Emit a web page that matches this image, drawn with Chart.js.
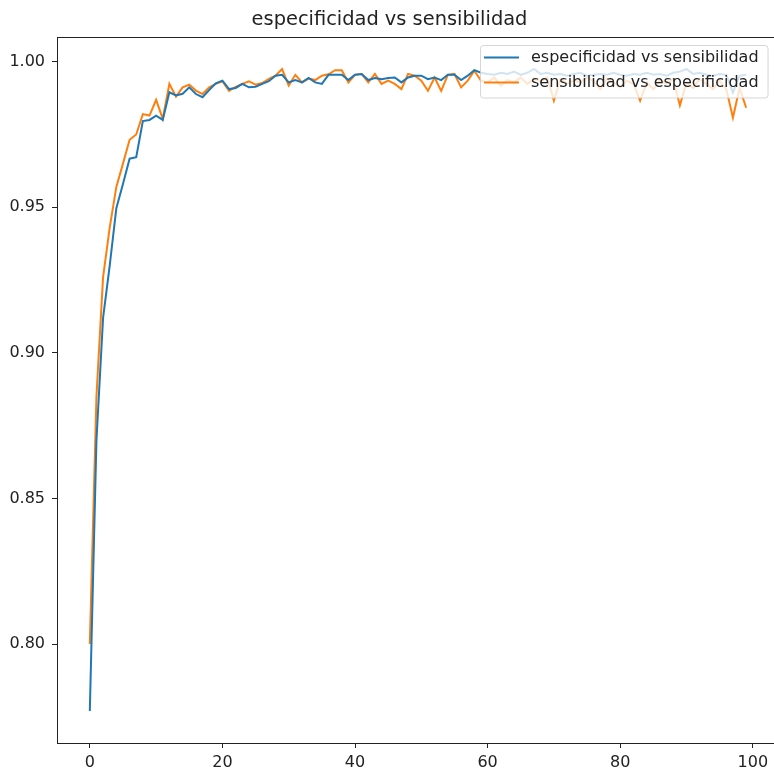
<!DOCTYPE html>
<html>
<head>
<meta charset="utf-8">
<script src="https://cdn.jsdelivr.net/npm/chart.js@4"></script>
<style>
  body { margin: 0; overflow: hidden; background: #fff; }
  #wrap { width: 774px; height: 771px; overflow: hidden; }
</style>
</head>
<body>
<div id="wrap"><canvas id="chart" width="834" height="771"></canvas></div>
<script>
const titleText = "especificidad vs sensibilidad";
const seriesLabels = ["especificidad vs sensibilidad", "sensibilidad vs especificidad"];
const xTicks = [0, 20, 40, 60, 80, 100];
const yTicks = [0.80, 0.85, 0.90, 0.95, 1.00];

const especificidad = [
  0.777, 0.870, 0.912, 0.930, 0.9497, 0.958, 0.9667, 0.9672, 0.9796, 0.980,
  0.9815, 0.980, 0.9895, 0.9884, 0.989, 0.9912, 0.9889, 0.9878, 0.9903, 0.9926,
  0.9935, 0.9906, 0.991, 0.9924, 0.9912, 0.9914, 0.9924, 0.9933, 0.9952, 0.9955,
  0.9929, 0.9937, 0.9929, 0.9944, 0.9929, 0.9924, 0.9955, 0.9955, 0.9955, 0.9937,
  0.9955, 0.9958, 0.9937, 0.9944, 0.994, 0.9944, 0.9946, 0.9929, 0.9946, 0.9952,
  0.9952, 0.994, 0.9946, 0.9937, 0.9955, 0.9955, 0.9937, 0.9952, 0.9971, 0.9962,
  0.9958, 0.9955, 0.9962, 0.9958, 0.9966, 0.9955, 0.9962, 0.9975, 0.9958, 0.9962,
  0.9955, 0.9958, 0.9952, 0.9958, 0.9962, 0.9952, 0.9955, 0.9958, 0.9955, 0.9962,
  0.9955, 0.9952, 0.9958, 0.9955, 0.9962, 0.9955, 0.9958, 0.9952, 0.9962, 0.9966,
  0.9975, 0.9958, 0.9962, 0.9955, 0.9952, 0.9958, 0.9955, 0.9894, 0.9952, 0.9955
];

const sensibilidad = [
  0.800, 0.885, 0.926, 0.943, 0.957, 0.965, 0.9732, 0.975, 0.982, 0.9815,
  0.9869, 0.9804, 0.9924, 0.988, 0.9912, 0.9921, 0.9901, 0.9889, 0.9912, 0.9924,
  0.9933, 0.990, 0.9914, 0.9924, 0.9933, 0.9921, 0.9927, 0.9941, 0.9952, 0.9975,
  0.9918, 0.9955, 0.9929, 0.9942, 0.9937, 0.9952, 0.9957, 0.9971, 0.9971, 0.9929,
  0.9955, 0.9958, 0.9929, 0.9958, 0.9924, 0.9935, 0.9924, 0.9906, 0.9958, 0.9952,
  0.9935, 0.990, 0.9946, 0.990, 0.9955, 0.9958, 0.9912, 0.9935, 0.9969, 0.9935,
  0.9929, 0.9946, 0.9917, 0.9937, 0.9929, 0.9946, 0.9924, 0.9941, 0.9933, 0.9946,
  0.9866, 0.9941, 0.9924, 0.9935, 0.9929, 0.9946, 0.9933, 0.9906, 0.9941, 0.9929,
  0.9912, 0.9935, 0.9924, 0.9866, 0.9929, 0.9906, 0.9937, 0.9924, 0.9941, 0.985,
  0.9929, 0.991, 0.9941, 0.9924, 0.9906, 0.9935, 0.9906, 0.9808, 0.991, 0.9842
];

const epochs = especificidad.map((_, i) => i);

const FONT = "'DejaVu Sans', sans-serif";
const TEXT = "#222";

// matplotlib style frame + legend drawn over the lines
const framePlugin = {
  id: "frame",
  afterDatasetsDraw(chart) {
    const { ctx, chartArea: a } = chart;
    ctx.save();
    ctx.strokeStyle = "#222";
    ctx.lineWidth = 1;
    ctx.strokeRect(Math.round(a.left) + 0.5, Math.round(a.top) + 0.5,
      Math.round(a.right - a.left), Math.round(a.bottom - a.top));

    // legend
    ctx.font = "16px " + FONT;
    const ds = chart.data.datasets;
    const textW = Math.max(...ds.map(d => ctx.measureText(d.label).width));
    const bx = 480, by = 45, bh = 52.5;
    const textX = 531;
    const bw = textX - bx + textW + 9;
    ctx.beginPath();
    ctx.roundRect(bx + 0.5, by + 0.5, bw, bh, 3);
    ctx.fillStyle = "rgba(255,255,255,0.8)";
    ctx.fill();
    ctx.strokeStyle = "rgba(204,204,204,0.8)";
    ctx.stroke();
    ds.forEach((d, i) => {
      const y = 57.5 + i * 25;
      ctx.strokeStyle = d.borderColor;
      ctx.lineWidth = 2;
      ctx.beginPath();
      ctx.moveTo(484, y);
      ctx.lineTo(519, y);
      ctx.stroke();
      ctx.fillStyle = TEXT;
      ctx.textBaseline = "middle";
      ctx.fillText(d.label, textX, y);
    });
    ctx.restore();
  }
};

new Chart(document.getElementById("chart"), {
  type: "line",
  data: {
    datasets: [
      {
        label: seriesLabels[0],
        data: epochs.map((e, i) => ({ x: e, y: especificidad[i] })),
        borderColor: "#1f77b4",
        borderWidth: 2,
        pointRadius: 0,
        tension: 0
      },
      {
        label: seriesLabels[1],
        data: epochs.map((e, i) => ({ x: e, y: sensibilidad[i] })),
        borderColor: "#ff7f0e",
        borderWidth: 2,
        pointRadius: 0,
        tension: 0
      }
    ]
  },
  options: {
    responsive: false,
    animation: false,
    layout: { padding: { left: 0, top: 0, right: 55, bottom: 0 } },
    plugins: {
      legend: { display: false },
      tooltip: { enabled: false },
      title: {
        display: true,
        text: titleText,
        color: TEXT,
        font: { family: FONT, size: 19.4, weight: "normal" },
        padding: { top: 8.5, bottom: 5.2 }
      }
    },
    scales: {
      x: {
        type: "linear",
        min: -4.95,
        max: 103.95,
        afterBuildTicks: s => { s.ticks = xTicks.map(v => ({ value: v })); },
        afterFit: s => { s.height = 28; },
        grid: { drawOnChartArea: false, tickLength: 5, color: "#222" },
        border: { display: false },
        ticks: {
          color: TEXT,
          padding: 5,
          maxRotation: 0,
          font: { family: FONT, size: 16 }
        }
      },
      y: {
        min: 0.766,
        max: 1.0085,
        afterBuildTicks: s => { s.ticks = yTicks.map(v => ({ value: v })); },
        afterFit: s => { s.width = 57; },
        grid: { drawOnChartArea: false, tickLength: 5, color: "#222" },
        border: { display: false },
        ticks: {
          color: TEXT,
          padding: 7,
          font: { family: FONT, size: 16 },
          callback: v => v.toFixed(2)
        }
      }
    }
  },
  plugins: [framePlugin]
});
</script>
</body>
</html>
